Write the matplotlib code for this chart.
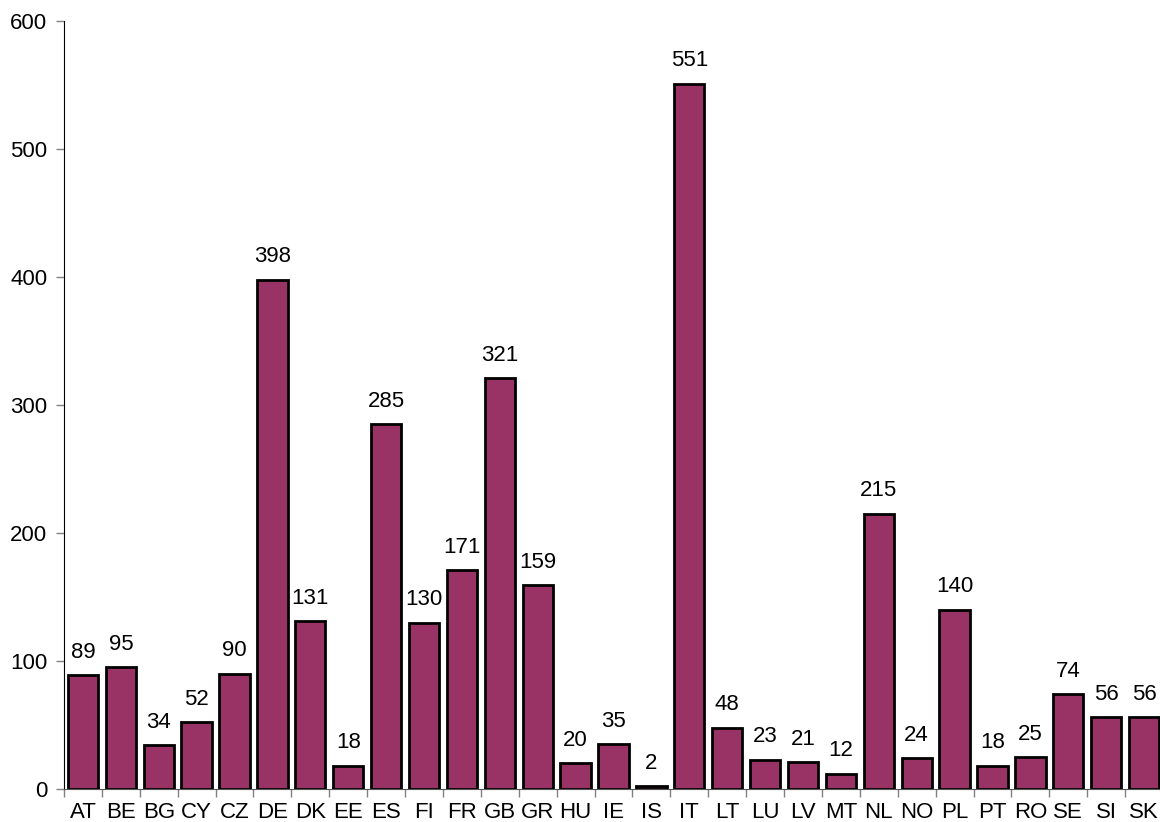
import matplotlib
matplotlib.use("Agg")
import matplotlib.pyplot as plt
import numpy as np

countries = ["AT","BE","BG","CY","CZ","DE","DK","EE","ES","FI","FR","GB","GR","HU","IE",
             "IS","IT","LT","LU","LV","MT","NL","NO","PL","PT","RO","SE","SI","SK"]
values = [89,95,34,52,90,398,131,18,285,130,171,321,159,20,35,2,551,48,23,21,12,215,24,140,18,25,74,56,56]

plt.rcParams['font.family'] = ['Liberation Sans', 'DejaVu Sans']

fig = plt.figure(figsize=(11.6, 8.22), dpi=100)
ax = fig.add_axes([64/1160, 33/822, (1163-64)/1160, (789-21)/822])

x = np.arange(len(countries))
bars = ax.bar(x, values, width=0.8, color='#993366', edgecolor='black', linewidth=2)
for xi, v in zip(x, values):
    ax.annotate(str(v), (xi, v), xytext=(0, 9), textcoords='offset points',
                ha='center', va='bottom', fontsize=16)

ax.set_xlim(-0.5, len(countries) - 0.5)
ax.set_ylim(0, 600)
ax.set_yticks(range(0, 601, 100))
ax.set_xticks(x)
ax.set_xticklabels(countries)
ax.set_xticks(np.arange(-0.5, len(countries), 1), minor=True)
ax.tick_params(axis='x', which='major', length=0, labelsize=16, pad=9)
ax.tick_params(axis='x', which='minor', length=6, color='#808080', width=1)
ax.tick_params(axis='y', length=6, color='#808080', width=1, labelsize=16, pad=6)
for s in ['top', 'right']:
    ax.spines[s].set_visible(False)
ax.spines['left'].set_color('black')
ax.spines['bottom'].set_color('#555555')

fig.savefig('out.png', dpi=100)
